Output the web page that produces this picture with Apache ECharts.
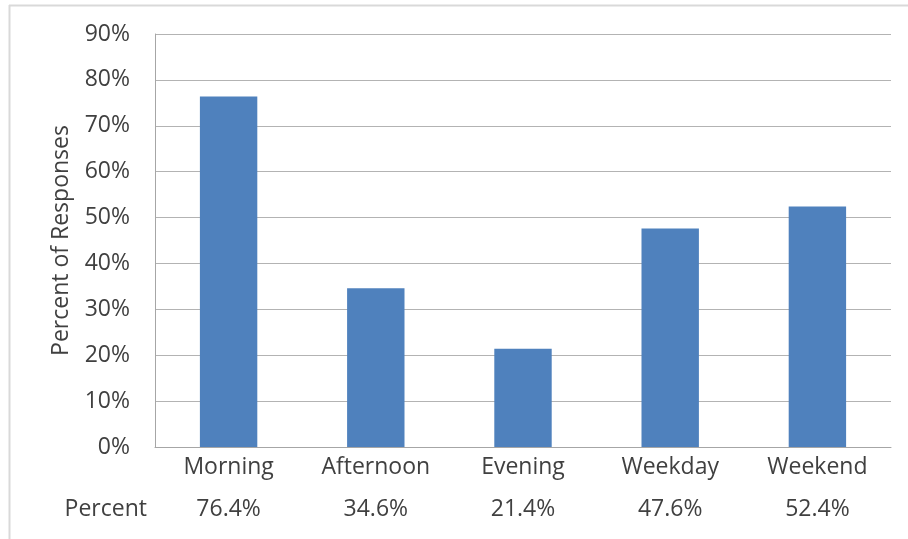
<!DOCTYPE html>
<html>
<head>
<meta charset="utf-8">
<script src="https://cdn.jsdelivr.net/npm/echarts@6/dist/echarts.min.js"></script>
<style>
  html, body { margin: 0; padding: 0; background: #fff; }
  #chart { width: 908px; height: 539px; }
</style>
</head>
<body>
<div id="chart"></div>
<script>
const categories = ['Morning', 'Afternoon', 'Evening', 'Weekday', 'Weekend'];
const percentValues = [76.4, 34.6, 21.4, 47.6, 52.4];
const tableLabels = ['76.4%', '34.6%', '21.4%', '47.6%', '52.4%'];

const textColor = '#404040';
const fontFamily = '"Open Sans", "Noto Sans", sans-serif';

let myChart = echarts.init(document.getElementById('chart'));
myChart.setOption({
    animation: false,
    graphic: [
        // chart frame (top and left edges visible)
        { type: 'line', shape: { x1: 9, y1: 5.5, x2: 908, y2: 5.5 }, style: { stroke: '#d9d9d9', lineWidth: 2 } },
        { type: 'line', shape: { x1: 9.5, y1: 5, x2: 9.5, y2: 539 }, style: { stroke: '#d9d9d9', lineWidth: 2 } }
    ],
    grid: { left: 155, right: 17, top: 34, bottom: 92 },
    xAxis: [
        {
            type: 'category',
            data: categories,
            axisLine: { lineStyle: { color: '#a6a6a6' } },
            axisTick: { show: false },
            axisLabel: { color: textColor, fontSize: 23, fontFamily: fontFamily, margin: 9 }
        },
        {
            type: 'category',
            data: tableLabels,
            position: 'bottom',
            offset: 62,
            name: 'Percent',
            nameLocation: 'start',
            nameGap: 8,
            nameTextStyle: { color: textColor, fontSize: 23, fontFamily: fontFamily, verticalAlign: 'middle', align: 'right' },
            axisLine: { show: false },
            axisTick: { show: false },
            axisLabel: { color: textColor, fontSize: 23, fontFamily: fontFamily, margin: 0, verticalAlign: 'middle' }
        }
    ],
    yAxis: {
        type: 'value',
        min: 0,
        max: 90,
        interval: 10,
        name: 'Percent of Responses',
        nameLocation: 'middle',
        nameGap: 82,
        nameTextStyle: { color: textColor, fontSize: 23, fontFamily: fontFamily },
        axisLine: { show: true, lineStyle: { color: '#a6a6a6' } },
        axisTick: { show: false },
        axisLabel: { color: textColor, fontSize: 23, fontFamily: fontFamily, margin: 25, formatter: '{value}%' },
        splitLine: { lineStyle: { color: '#b3b3b3' } }
    },
    series: [
        {
            name: 'Percent',
            type: 'bar',
            data: percentValues,
            barWidth: '39%',
            itemStyle: { color: '#4f81bd' }
        }
    ]
});
</script>
</body>
</html>
